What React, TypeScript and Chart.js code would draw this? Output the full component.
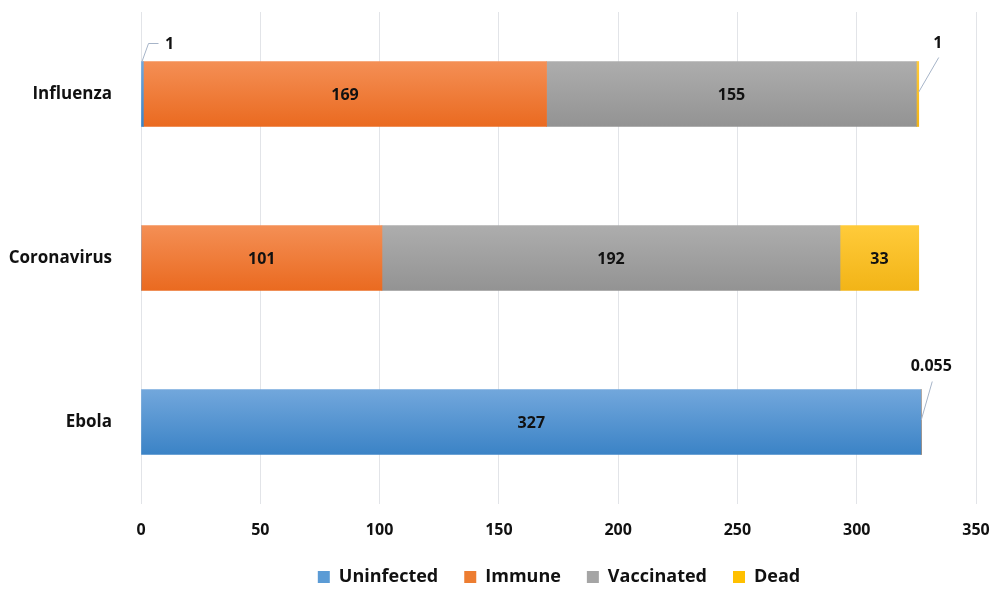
import React, { useEffect, useRef } from "react";
import { Chart, registerables } from "chart.js";

Chart.register(...registerables);

const categories = ["Influenza", "Coronavirus", "Ebola"];
const seriesNames = ["Uninfected", "Immune", "Vaccinated", "Dead"];
const uninfected = [1, 0, 327];
const immune = [169, 101, 0];
const vaccinated = [155, 192, 0];
const dead = [1, 33, 0.055];
const xTicks = [0, 50, 100, 150, 200, 250, 300, 350];

const gradStops = [
  ["#72a7dc", "#3b83c6"],
  ["#f48f55", "#ea6a20"],
  ["#adadad", "#939393"],
  ["#ffcb3a", "#f2b417"],
];
const solid = ["#5b9bd5", "#ed7d31", "#a5a5a5", "#ffc000"];

const FONT = "'Open Sans', Lato, sans-serif";
const W = "bold";

const labelPlugin = {
  id: "barLabels",
  afterLayout(chart: any) {
    const lg = chart.legend;
    if (lg) {
      lg.left += 71;
      lg.right += 71;
    }
  },
  afterDatasetsDraw(chart: any) {
    const ctx = chart.ctx;
    ctx.save();
    ctx.font = `${W} 16px ${FONT}`;
    ctx.fillStyle = "#111";
    ctx.textBaseline = "middle";
    chart.data.datasets.forEach((ds: any, di: number) => {
      const meta = chart.getDatasetMeta(di);
      meta.data.forEach((el: any, i: number) => {
        const v = ds.data[i];
        if (!v) return;
        const left = Math.min(el.x, el.base);
        const right = Math.max(el.x, el.base);
        const top = el.y - el.height / 2;
        const txt = String(v);
        if (right - left > 40) {
          ctx.textAlign = "center";
          ctx.fillText(txt, (left + right) / 2, el.y + 1);
          return;
        }
        ctx.strokeStyle = "#a6b4c8";
        ctx.lineWidth = 1;
        ctx.beginPath();
        ctx.textAlign = "center";
        if (di === 0) {
          ctx.moveTo(left + 0.5, top);
          ctx.lineTo(left + 7, top - 18);
          ctx.lineTo(left + 17, top - 18);
          ctx.stroke();
          ctx.fillText(txt, left + 28, top - 17);
        } else if (txt.length > 2) {
          ctx.moveTo(right, el.y - 2);
          ctx.lineTo(right + 11, top - 8);
          ctx.stroke();
          ctx.fillText(txt, right + 10, top - 23);
        } else {
          ctx.moveTo(right, el.y - 2);
          ctx.lineTo(right + 20, top - 4);
          ctx.stroke();
          ctx.fillText(txt, right + 19, top - 18);
        }
      });
    });
    ctx.restore();
  },
};

export default function App() {
  const ref = useRef<HTMLCanvasElement>(null);
  useEffect(() => {
    const data = [uninfected, immune, vaccinated, dead];
    const chart = new Chart(ref.current!, {
      type: "bar",
      data: {
        labels: categories,
        datasets: seriesNames.map((name, k) => ({
          label: name,
          data: data[k],
          barThickness: 65,
          borderWidth: 0,
          backgroundColor: (c: any) => {
            const ch = c.chart;
            const ys = ch.scales && ch.scales.y;
            if (c.type !== "data" || !ys || !ch.chartArea) return solid[k];
            const cy = ys.getPixelForValue(c.dataIndex);
            const g = ch.ctx.createLinearGradient(0, cy - 32.5, 0, cy + 32.5);
            g.addColorStop(0, gradStops[k][0]);
            g.addColorStop(1, gradStops[k][1]);
            return g;
          },
        })),
      },
      options: {
        indexAxis: "y",
        animation: false,
        responsive: false,
        maintainAspectRatio: false,
        layout: { padding: { top: 12, right: 18, left: 0, bottom: -7 } },
        scales: {
          x: {
            stacked: true,
            min: 0,
            max: 350,
            afterBuildTicks: (s: any) => {
              s.ticks = xTicks.map((v) => ({ value: v }));
            },
            afterFit: (s: any) => {
              s.height = 38;
              s.paddingLeft = 0;
              s.paddingRight = 0;
            },
            grid: { color: "#e2e4e8", drawTicks: false },
            border: { display: false },
            ticks: {
              padding: 17,
              color: "#111",
              font: { family: FONT, size: 16, weight: W },
            },
          },
          y: {
            stacked: true,
            grid: { display: false },
            border: { display: false },
            afterFit: (s: any) => {
              s.width = 141;
              s.paddingTop = 0;
              s.paddingBottom = 0;
            },
            ticks: {
              padding: 21,
              color: "#111",
              font: { family: FONT, size: 17, weight: W },
            },
          },
        },
        plugins: {
          legend: {
            position: "bottom",
            labels: {
              boxWidth: 12,
              boxHeight: 12,
              padding: 26,
              color: "#111",
              font: { family: FONT, size: 18, weight: W },
              generateLabels: () =>
                seriesNames.map((n, k) => ({
                  text: n,
                  fillStyle: solid[k],
                  strokeStyle: solid[k],
                  lineWidth: 0,
                  hidden: false,
                  datasetIndex: k,
                  fontColor: "#111",
                })),
            },
          },
          tooltip: { enabled: false },
        },
      },
      plugins: [labelPlugin],
    } as any);
    return () => chart.destroy();
  }, []);
  return (
    <div style={{ position: "absolute", left: 0, top: 0, width: 994, height: 589, background: "#fff" }}>
      <canvas ref={ref} width={994} height={589} style={{ width: 994, height: 589 }} />
    </div>
  );
}
